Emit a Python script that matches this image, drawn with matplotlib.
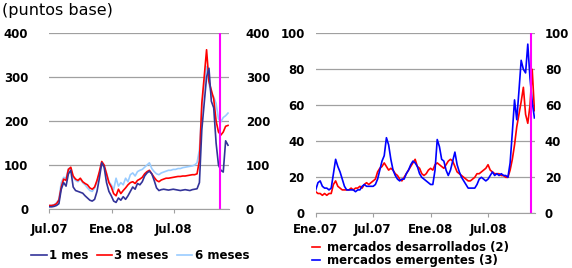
import pandas as pd
import matplotlib
matplotlib.use('Agg')
import matplotlib.pyplot as plt

# --- left panel: weekly, jul.07 - dic.08 (puntos base)
left_start = '2007-07-02'
mes_1 = [5, 5, 6, 8, 12, 45, 60, 52, 80, 88, 50, 42, 40, 38, 36, 30, 25, 20, 18, 22,
         40, 70, 105, 95, 60, 40, 30, 18, 15, 25, 20, 28, 22, 30, 40, 50, 45, 58, 55, 62,
         75, 82, 86, 80, 65, 48, 42, 44, 45, 44, 43, 44, 45, 44, 43, 42, 43, 44, 43, 42,
         44, 45, 46, 60, 180, 240, 300, 320, 245, 230, 150, 100, 88, 84, 155, 145]
meses_3 = [8, 8, 9, 12, 20, 50, 68, 65, 90, 95, 75, 68, 65, 70, 62, 58, 55, 48, 45, 50,
           65, 85, 108, 100, 80, 60, 50, 35, 30, 45, 35, 42, 48, 55, 60, 62, 58, 65, 68, 72,
           80, 85, 88, 80, 72, 65, 62, 66, 68, 70, 70, 71, 72, 73, 74, 74, 75, 75, 76, 77,
           78, 78, 80, 110, 240, 300, 362, 290, 270, 250, 200, 175, 168, 175, 188, 190]
meses_6 = [8, 8, 10, 14, 22, 60, 72, 70, 92, 88, 72, 65, 62, 68, 60, 55, 48, 42, 40, 48,
           62, 80, 105, 95, 82, 62, 55, 44, 70, 52, 60, 55, 70, 62, 78, 82, 75, 85, 88, 90,
           95, 100, 105, 92, 85, 80, 78, 82, 84, 86, 88, 88, 90, 90, 92, 92, 94, 95, 96, 97,
           98, 100, 105, 135, 230, 285, 324, 285, 262, 255, 240, 205, 198, 208, 212, 218]

# --- right panel: weekly, ene.07 - nov.08
right_start = '2007-01-01'
desarrollados = [12, 11, 11, 10, 11, 10, 11, 11, 16, 18, 15, 14, 13, 13, 13, 13, 14, 13, 14, 14,
                 15, 14, 16, 17, 16, 17, 18, 19, 23, 25, 26, 28, 26, 24, 25, 24, 22, 21, 19, 18,
                 20, 22, 24, 26, 28, 30, 26, 25, 22, 21, 22, 24, 25, 24, 27, 28, 27, 26, 25, 27,
                 29, 30, 29, 26, 23, 22, 21, 20, 19, 18, 18, 19, 20, 22, 22, 23, 24, 25, 27, 24,
                 23, 22, 22, 22, 21, 21, 20, 20, 24, 30, 38, 48, 55, 62, 70, 55, 50, 60, 80, 57]
emergentes = [13, 17, 18, 15, 14, 14, 13, 14, 22, 30, 26, 23, 19, 15, 13, 13, 13, 13, 12, 13,
              13, 15, 16, 15, 15, 15, 15, 16, 19, 24, 29, 32, 42, 38, 30, 24, 21, 19, 18, 19,
              19, 22, 24, 27, 29, 28, 26, 22, 20, 19, 18, 17, 16, 16, 24, 41, 37, 30, 29, 24,
              21, 24, 29, 34, 27, 23, 20, 18, 16, 14, 14, 14, 14, 16, 19, 20, 19, 18, 19, 21,
              23, 21, 22, 21, 22, 21, 21, 20, 28, 45, 63, 52, 68, 85, 80, 78, 94, 75, 62, 53]

left_dates = pd.date_range(left_start, periods=len(mes_1), freq='7D')
right_dates = pd.date_range(right_start, periods=len(emergentes), freq='7D')

plt.rcParams['font.family'] = ['DejaVu Sans']
plt.rcParams['font.size'] = 8.5

GRID = '#a0a0a0'


def style_axis(ax, ymax, ystep, twin_pad, left_pad, x_pad):
    ax.set_ylim(0, ymax)
    ax.set_yticks(range(0, ymax + 1, ystep))
    ax.yaxis.grid(True, color=GRID, linewidth=0.9)
    ax.set_axisbelow(True)
    for s in ('left', 'right', 'top'):
        ax.spines[s].set_visible(False)
    ax.spines['bottom'].set_color(GRID)
    ax.tick_params(axis='y', length=0, pad=left_pad)
    ax.tick_params(axis='x', length=3, color=GRID, pad=x_pad)
    for lab in ax.get_xticklabels() + ax.get_yticklabels():
        lab.set_fontweight('bold')
    tw = ax.twinx()
    tw.set_ylim(0, ymax)
    tw.set_yticks(range(0, ymax + 1, ystep))
    tw.tick_params(axis='y', length=0, pad=twin_pad)
    for s in tw.spines.values():
        s.set_visible(False)
    for lab in tw.get_yticklabels():
        lab.set_fontweight('bold')


def month_label(d):
    names = {1: 'Ene', 7: 'Jul'}
    return '%s.%s' % (names[d.month], d.strftime('%y'))


fig = plt.figure(figsize=(5.72, 2.68), dpi=100)

# left panel
ax1 = fig.add_axes([0.0857, 0.2201, 0.3147, 0.6567])
ax1.plot(left_dates, mes_1, color='#333399', linewidth=1.2, label='1 mes', zorder=3)
ax1.plot(left_dates, meses_3, color='#ff0000', linewidth=1.2, label='3 meses', zorder=2)
ax1.plot(left_dates, meses_6, color='#99ccff', linewidth=1.2, label='6 meses', zorder=1)
ax1.axvline(pd.Timestamp('2008-11-14'), color='#ff00ff', linewidth=1.5, zorder=4)
ax1.set_xlim(pd.Timestamp('2007-07-01'), pd.Timestamp('2008-12-11'))
ticks1 = [pd.Timestamp(t) for t in ('2007-07-01', '2008-01-01', '2008-07-01')]
ax1.set_xticks(ticks1)
ax1.set_xticklabels([month_label(t) for t in ticks1])
style_axis(ax1, 400, 100, twin_pad=12, left_pad=15, x_pad=7)

# right panel
ax2 = fig.add_axes([0.552, 0.2041, 0.3834, 0.6716])
ax2.plot(right_dates, desarrollados, color='#ff0000', linewidth=1.2,
         label='mercados desarrollados (2)', zorder=2)
ax2.plot(right_dates, emergentes, color='#0000ff', linewidth=1.2,
         label='mercados emergentes (3)', zorder=3)
ax2.axvline(pd.Timestamp('2008-11-12'), color='#ff00ff', linewidth=1.5, zorder=4)
ax2.set_xlim(pd.Timestamp('2007-01-01'), pd.Timestamp('2008-11-26'))
ticks2 = [pd.Timestamp(t) for t in ('2007-01-01', '2007-07-01', '2008-01-01', '2008-07-01')]
ax2.set_xticks(ticks2)
ax2.set_xticklabels([month_label(t) for t in ticks2])
style_axis(ax2, 100, 20, twin_pad=7, left_pad=8, x_pad=4)

fig.text(0.003, 0.99, '(puntos base)', fontsize=11.5, va='top', ha='left')

leg1 = fig.legend(*ax1.get_legend_handles_labels(), loc='center', ncol=3,
                  bbox_to_anchor=(0.245, 0.045), frameon=False, handlelength=1.3,
                  handletextpad=0.2, columnspacing=0.7, borderaxespad=0,
                  prop={'weight': 'bold', 'size': 8.5})
leg2 = fig.legend(*ax2.get_legend_handles_labels(), loc='lower left', ncol=1,
                  bbox_to_anchor=(0.545, 0.002), frameon=False, handlelength=0.7,
                  handletextpad=0.6, labelspacing=0.05, borderaxespad=0, borderpad=0,
                  prop={'weight': 'bold', 'size': 8.5})

fig.savefig('out.png', dpi=100)
